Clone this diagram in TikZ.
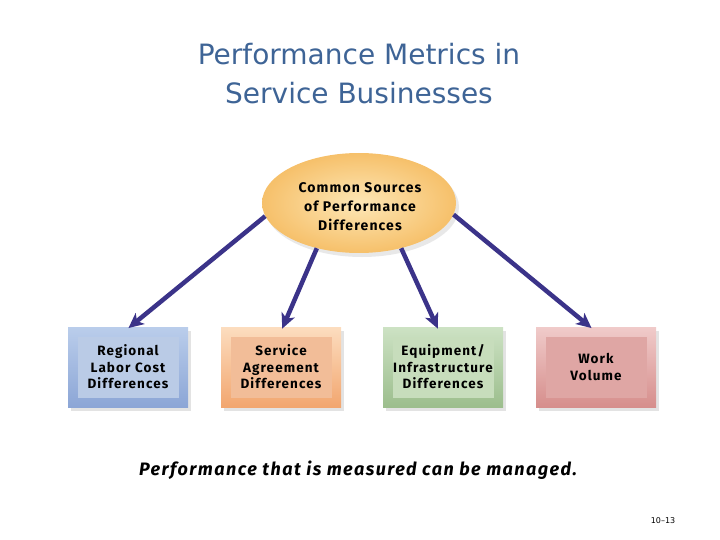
\documentclass[tikz,border=0pt]{standalone}
\usepackage{fontspec}
\setmainfont{DejaVu Sans}
\newfontfamily\boxfont[LetterSpace=8]{Fira Sans}
\usetikzlibrary{arrows.meta,shapes.geometric,shadows,positioning}

\definecolor{titleblue}{HTML}{3E6496}
\definecolor{arrowpurple}{HTML}{3B3389}
\definecolor{srcin}{HTML}{FDE7B6}
\definecolor{srcout}{HTML}{F6C06A}
\definecolor{bluetop}{HTML}{BACDEB}
\definecolor{bluebot}{HTML}{8CA6D6}
\definecolor{bluein}{HTML}{BACBE6}
\definecolor{orangetop}{HTML}{FCDDBF}
\definecolor{orangebot}{HTML}{F2A66F}
\definecolor{orangein}{HTML}{F2BD98}
\definecolor{greentop}{HTML}{CDE2C4}
\definecolor{greenbot}{HTML}{9CBE8D}
\definecolor{greenin}{HTML}{C7DDBC}
\definecolor{redtop}{HTML}{F0CBCA}
\definecolor{redbot}{HTML}{D68E8C}
\definecolor{redin}{HTML}{DFA6A4}

\tikzset{
  metricbox/.style n args={3}{draw=none, minimum width=120pt, minimum height=80pt,
    top color=#1, bottom color=#2, align=center, text width=100pt,
    font=\boxfont\fontsize{13.5}{16.5}\selectfont\bfseries,
    drop shadow={shadow xshift=3pt, shadow yshift=-4pt, opacity=0.18, fill=black!60},
    path picture={\fill[#3] ([shift={(10pt,-10pt)}]path picture bounding box.north west)
      rectangle ([shift={(-9pt,9pt)}]path picture bounding box.south east);}},
  bigarrow/.style={draw=arrowpurple, line width=4.5pt,
    -{Stealth[length=15pt, width=14pt, inset=4pt]}, shorten >=-2pt}
}

\begin{document}
\begin{tikzpicture}[x=1pt,y=-1pt]
  \useasboundingbox (0,0) rectangle (720,540);

  % title
  \node[text=titleblue, align=center, font=\fontsize{28}{39}\selectfont] (title) at (359,74)
    {Performance Metrics in\\Service Businesses};

  % central ellipse
  \node[ellipse, minimum width=194pt, minimum height=100pt, inner color=srcin, outer color=srcout,
    drop shadow={shadow xshift=3pt, shadow yshift=-4pt, opacity=0.15, fill=black!60}] (src) at (359,203) {};
  \node[align=center, font=\boxfont\fontsize{14}{19}\selectfont\bfseries] (srctext) at (360,207)
    {Common Sources\\of Performance\\Differences};

  % the four boxes
  \node[metricbox={bluetop}{bluebot}{bluein}] (labor) at (128,367)
    {Regional\\Labor Cost\\Differences};
  \node[metricbox={orangetop}{orangebot}{orangein}] (service) at (281,367)
    {Service\\Agreement\\Differences};
  \node[metricbox={greentop}{greenbot}{greenin}] (equip) at (443,367)
    {Equipment/\\Infrastructure\\Differences};
  \node[metricbox={redtop}{redbot}{redin}] (volume) at (596,367)
    {Work\\Volume};

  % arrows
  \draw[bigarrow] (src.188) -- ([xshift=2pt]labor.north);
  \draw[bigarrow] (src.227) -- ([xshift=2pt]service.north);
  \draw[bigarrow] (src.313) -- ([xshift=-6pt]equip.north);
  \draw[bigarrow] (src.353) -- ([xshift=-6pt]volume.north);

  % caption and page number
  \node[font=\boxfont\fontsize{18}{20}\selectfont\bfseries\itshape] (caption) at (358,470)
    {Performance that is measured can be managed.};
  \node[font=\fontsize{8}{10}\selectfont] (pagenum) at (663,521) {10--13};
\end{tikzpicture}
\end{document}
